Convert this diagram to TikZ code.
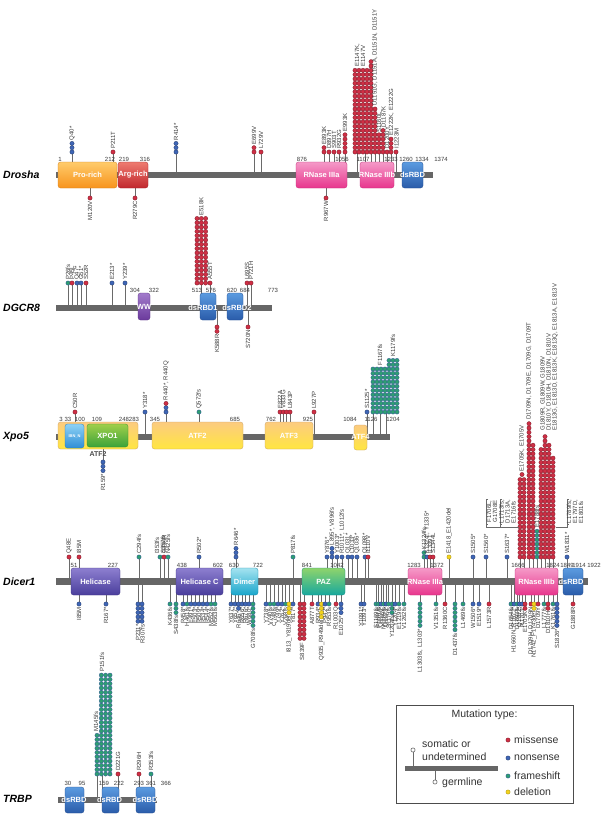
\documentclass[tikz,border=0pt]{standalone}
\usepackage{fontspec}
\setmainfont{Liberation Sans}
\definecolor{miss}{HTML}{CF2F45}
\definecolor{nons}{HTML}{3F66B6}
\definecolor{frms}{HTML}{2E9E72}
\definecolor{dele}{HTML}{F2D21E}
\definecolor{barc}{HTML}{666666}
\definecolor{stemc}{HTML}{6A6A6A}
\definecolor{txtc}{HTML}{3A3A3A}
\definecolor{pro1}{HTML}{FFCB6B}\definecolor{pro2}{HTML}{F7941D}
\definecolor{arg1}{HTML}{EE7B70}\definecolor{arg2}{HTML}{C1272D}
\definecolor{rna1}{HTML}{F59AC8}\definecolor{rna2}{HTML}{E8368D}
\definecolor{dsr1}{HTML}{5B9BE0}\definecolor{dsr2}{HTML}{2A5CAA}
\definecolor{ww1}{HTML}{A27BCB}\definecolor{ww2}{HTML}{6B3A9C}
\definecolor{hel1}{HTML}{8D7FD0}\definecolor{hel2}{HTML}{4A3E9C}
\definecolor{dim1}{HTML}{A4E3F0}\definecolor{dim2}{HTML}{1AA6CB}
\definecolor{paz1}{HTML}{8FD46B}\definecolor{paz2}{HTML}{17A89E}
\definecolor{atfa}{HTML}{FCCB80}\definecolor{atfb}{HTML}{FFE640}
\definecolor{ibn1}{HTML}{8ED2F5}\definecolor{ibn2}{HTML}{2F8ED6}
\definecolor{xpa}{HTML}{A0CF4A}\definecolor{xpb}{HTML}{3BA33A}
\newcommand\dsp{4.3}
% lollipop above the bar
\newcommand\lpu[4]{%
  \draw[stm] (#1,\BY) -- (#1,\DU);
  \foreach \ii in {1,...,#2}{\node[d-#3] at (#1,{\DU-(\ii-1)*\dsp}) {};}
  \node[lab,anchor=west] at (#1,{\DU-(#2-1)*\dsp-2.6}) {#4};}
% lollipop below the bar
\newcommand\lpd[4]{%
  \draw[stm] (#1,\BY) -- (#1,\DD);
  \foreach \ii in {1,...,#2}{\node[d-#3] at (#1,{\DD+(\ii-1)*\dsp}) {};}
  \node[lab,anchor=east] at (#1,{\DD+(#2-1)*\dsp+2.6}) {#4};}
% columns of dots without stem
\newcommand\cu[4]{\foreach \ii in {1,...,#2}{\node[d-#3] at (#1,{#4-(\ii-1)*\dsp}) {};}}
\newcommand\cd[4]{\foreach \ii in {1,...,#2}{\node[d-#3] at (#1,{#4+(\ii-1)*\dsp}) {};}}
% domain box
\newcommand\dom[7]{%
  \shade[top color=#5,bottom color=#6,draw=#6!85!black,line width=0.3pt,rounded corners=2.5pt] (#1,#2) rectangle (#3,#4);
  \node[domt] at ({(#1+#3)/2},{(#2+#4)/2}) {#7};}
\newcommand\atf[5]{%
  \shade[top color=atfa,middle color=atfa,bottom color=atfb,draw=atfa!80!black,line width=0.3pt,rounded corners=2.5pt] (#1,#2) rectangle (#3,#4);
  \node[domt] at ({(#1+#3)/2},{(#2+#4)/2}) {#5};}
\begin{document}
\begin{tikzpicture}[x=1pt,y=-1pt,
  stm/.style={draw=stemc,line width=0.6pt},
  dotb/.style={circle,inner sep=0pt,minimum size=4.3pt,line width=0.3pt},
  d-miss/.style={dotb,fill=miss,draw=miss!60!black},
  d-nons/.style={dotb,fill=nons,draw=nons!60!black},
  d-frms/.style={dotb,fill=frms,draw=nons!85!black},
  d-dele/.style={dotb,fill=dele,draw=dele!70!black},
  lab/.style={font=\fontsize{6}{6}\selectfont,text=txtc,rotate=90,inner sep=0.4pt,align=left},
  num/.style={font=\fontsize{6}{6}\selectfont,text=txtc,inner sep=0pt},
  domt/.style={font=\bfseries\fontsize{7.5}{8}\selectfont,text=white,inner sep=0pt},
  pname/.style={font=\bfseries\itshape\fontsize{10.5}{12}\selectfont,anchor=west,inner sep=0pt},
  leg/.style={font=\fontsize{10.5}{12.5}\selectfont,text=black!80,anchor=west,inner sep=0pt,align=left}]
\useasboundingbox (0,0) rectangle (608,816);
\fill[white] (0,0) rectangle (608,816);

%================ DROSHA ================
\def\BY{175}\def\DU{152}\def\DD{198}
\lpu{72}{3}{nons}{Q40*}
\lpu{113}{1}{miss}{P211T}
\lpu{176}{3}{nons}{R414*}
\lpu{254}{2}{miss}{E699V}
\lpu{261}{1}{miss}{L729V}
\lpu{324}{2}{miss}{E893K}
\lpu{329}{1}{miss}{D897H}
\lpu{334}{1}{miss}{S903T}
\lpu{339}{1}{miss}{R932G}
\lpu{345}{5}{miss}{E993K}
\foreach \xx in {357,365,371,375,379,383,387,391,396}{\draw[stm] (\xx,\BY) -- (\xx,\DU);}
\foreach \xx in {355,359,363,367}{\cu{\xx}{20}{miss}{152}}
\cu{371}{22}{miss}{152}
\cu{375}{11}{miss}{152}
\cu{379}{5}{miss}{152}
\cu{383}{6}{miss}{152}
\cu{387}{1}{miss}{152}
\cu{391}{4}{miss}{152}
\cu{396}{1}{miss}{152}
\node[lab,anchor=west] at (360,67) {E1147K,\\E1147V};
\node[lab,anchor=west] at (375,106) {D1151G, D1151A, D1151N, D1151Y};
\node[lab,anchor=west] at (379,133) {S1160L};
\node[lab,anchor=west] at (383.5,128) {D1187K};
\node[lab,anchor=west] at (387,149) {D1200Y};
\node[lab,anchor=west] at (391.5,136) {E1222K, E1222G};
\node[lab,anchor=west] at (396.5,149) {I1223M};
\lpd{90}{1}{miss}{M120V}
\lpd{135}{1}{miss}{R279C}
\lpd{326}{1}{miss}{R967W}
\fill[barc] (56,172) rectangle (433,178);
\dom{58}{162}{117}{188}{pro1}{pro2}{Pro-rich}
\dom{118}{162}{148}{188}{arg1}{arg2}{Arg-rich}
\dom{296}{162}{347}{188}{rna1}{rna2}{RNase IIIa}
\dom{360}{162}{394}{188}{rna1}{rna2}{RNase IIIb}
\dom{402}{162}{423}{188}{dsr1}{dsr2}{dsRBD}
\foreach \xx/\tt in {60/1,110/212,124/219,145/316,302/876,342/1056,363/1107,391/1233,406/1260,422/1334,441/1374}{\node[num] at (\xx,159) {\tt};}
\node[pname] (drosha) at (3,175) {Drosha};

%================ DGCR8 ================
\def\BY{307.5}\def\DU{283}\def\DD{327}
\lpu{68}{1}{frms}{P26fs}
\lpu{72}{1}{miss}{P45L}
\lpu{77}{1}{nons}{Q47*}
\lpu{81}{1}{nons}{G51*}
\lpu{86}{1}{miss}{S52R}
\lpu{112}{1}{nons}{E213*}
\lpu{125}{1}{nons}{Y239*}
\draw[stm] (201,\BY) -- (201,\DU);
\foreach \xx in {197,201.3,205.6}{\cu{\xx}{16}{miss}{283}}
\node[lab,anchor=west] at (201.3,216) {E518K};
\lpu{210}{1}{miss}{A555T}
\lpu{247}{1}{miss}{L695S}
\lpu{251}{1}{miss}{P721H}
\lpd{217}{2}{miss}{K588R}
\lpd{248}{1}{miss}{S720N}
\fill[barc] (56,304.5) rectangle (272,310.5);
\dom{138}{293}{150}{320}{ww1}{ww2}{WW}
\dom{200}{293}{216}{320}{dsr1}{dsr2}{}
\dom{227}{293}{243}{320}{dsr1}{dsr2}{}
\node[domt] at (203,307.5) {dsRBD1};
\node[domt] at (237,307.5) {dsRBD2};
\foreach \xx/\tt in {135/304,154/322,197/513,211/576,232/620,245/684,273/773}{\node[num] at (\xx,290) {\tt};}
\node[pname] (dgcr8) at (3,307.5) {DGCR8};

%================ XPO5 ================
\def\BY{437}\def\DU{412}\def\DD{462}
\lpu{75}{1}{miss}{C50R}
\lpu{145}{1}{nons}{Y318*}
\draw[stm] (166,\BY) -- (166,\DU);
\node[d-nons] at (166,412) {};
\node[d-nons] at (166,407.7) {};
\node[d-miss] at (166,403.4) {};
\node[lab,anchor=west] at (166,400.8) {R440*, R440Q};
\lpu{199}{1}{frms}{Q572fs}
\lpu{280}{1}{miss}{E822A}
\lpu{283.3}{1}{miss}{V833G}
\lpu{286.6}{1}{miss}{}
\lpu{290}{1}{miss}{L843P}
\lpu{314}{1}{miss}{L927P}
\lpu{367}{1}{nons}{S1125*}
\foreach \xx in {373,380,386}{\draw[stm] (\xx,\BY) -- (\xx,\DU);}
\foreach \xx in {373,377,381,385}{\cu{\xx}{11}{frms}{412}}
\foreach \xx in {389,393,397}{\cu{\xx}{13}{frms}{412}}
\node[lab,anchor=west] at (380,366) {F1167fs};
\node[lab,anchor=west] at (393,357) {K1179fs};
\lpd{103}{3}{nons}{R159*}
\fill[barc] (56,434) rectangle (390,440);
\atf{58}{422}{138}{449}{}
\dom{65}{424}{84}{448}{ibn1}{ibn2}{}
\node[font=\bfseries\fontsize{4}{4}\selectfont,text=white] at (74.5,436) {IBN\_N};
\dom{87}{424}{128}{447}{xpa}{xpb}{XPO1}
\node[font=\bfseries\fontsize{7}{7}\selectfont,text=black!70,inner sep=0pt] at (98,454) {ATF2};
\atf{152}{422}{243}{449}{ATF2}
\atf{265}{422}{313}{449}{ATF3}
\atf{354}{425}{367}{450}{}
\node[domt] at (360.5,437) {ATF4};
\foreach \xx/\tt in {61/3,68/33,80/100,97/109,124/248,134/283,155/345,235/685,271/762,308/925,350/1084,371/1126,393/1204}{\node[num] at (\xx,419) {\tt};}
\node[pname] (xpo5) at (3,437) {Xpo5};

%================ DICER1 ================
\def\BY{581}\def\DU{557}\def\DD{604}
\lpu{69}{1}{miss}{Q48E}
\lpu{79}{1}{miss}{I85M}
\lpu{139}{1}{frms}{C294fs}
\lpu{160}{1}{frms}{I353fs\\S357fs}
\lpu{164}{1}{miss}{G394R}
\lpu{168}{1}{frms}{N425fs}
\lpu{199}{1}{nons}{R502*}
\lpu{236}{3}{nons}{R646*}
\lpu{293}{1}{frms}{P817fs}
\lpu{327}{1}{nons}{Y876*}
\lpu{332}{3}{nons}{L895*, V896fs}
\lpu{337}{1}{nons}{Y1003*}
\lpu{342}{1}{nons}{R1011*, L1012fs}
\lpu{348}{1}{nons}{Q1031*}
\lpu{352}{1}{nons}{L1033*}
\lpu{357}{1}{nons}{Q1036*}
\lpu{365}{1}{nons}{Q1098*}
\lpu{368}{1}{miss}{I1110V}
\lpu{424}{2}{frms}{K1324fs}
\lpu{427}{1}{nons}{K1324*, Y1335*}
\lpu{430}{1}{miss}{I1339T}
\lpu{433}{1}{miss}{S1344L}
\lpu{449}{1}{dele}{E1418\_E1420del}
\lpu{473}{1}{nons}{S1505*}
\lpu{486}{1}{nons}{S1560*}
\lpu{507}{1}{nons}{S1637*}
\lpu{567}{1}{nons}{W1831*}
\foreach \xx in {520,524,529,533,537,541,545,549,553}{\draw[stm] (\xx,\BY) -- (\xx,\DU);}
\cu{520}{19}{miss}{557}
\cu{524}{19}{miss}{557}
\node[d-miss] at (522,474.5) {};
\node[lab,anchor=west] at (522,472) {E1705K, E1705V};
\cu{529}{32}{miss}{557}
\node[lab,anchor=west] at (529,420.5) {D1709N, D1709E, D1709G, D1709T};
\cu{533}{27}{miss}{557}
\cu{537}{7}{frms}{557}
\node[lab,anchor=west] at (537,528) {E1788fs};
\cu{541}{26}{miss}{557}
\cu{545}{29}{miss}{557}
\cu{549}{27}{miss}{557}
\cu{553}{24}{miss}{557}
\node[lab,anchor=west] at (549,431) {G1809R, G1809W, G1809V\\D1810Y, D1810H, D1810N, D1810V\\E1813G, E1813D, E1813K, E1813Q, E1813A, E1813V};
\draw[stm,line width=0.4pt] (488,499) -- (486,499) -- (486,524) -- (488,524);
\draw[stm,line width=0.4pt] (486,524) -- (486,527) -- (519,527);
\node[lab] at (492,511.5) {F1706L,\\G1708E};
\draw[stm,line width=0.4pt] (502,499) -- (500,499) -- (500,524) -- (502,524);
\draw[stm,line width=0.4pt] (500,524) -- (500,527);
\node[lab] at (507.5,511.5) {L1713fs,\\D1713A,\\E1716fs};
\draw[stm,line width=0.4pt] (569,499) -- (567,499) -- (567,524) -- (569,524);
\draw[stm,line width=0.4pt] (567,524) -- (567,527) -- (556,527);
\node[lab] at (575,511.5) {L1789fs,\\E1797D,\\E1801fs};
% below
\lpd{79}{1}{nons}{I85M}
\lpd{106}{1}{nons}{R167*}
\draw[stm] (138,\BY) -- (138,\DD);
\draw[stm] (142,\BY) -- (142,\DD);
\cd{138}{5}{nons}{604}\cd{142}{5}{nons}{604}
\node[lab,anchor=east] at (138,624) {P231*};
\node[lab,anchor=east] at (142.5,624) {R307fs};
\lpd{170}{1}{frms}{K436fs}
\lpd{176}{3}{frms}{S438fs}
\lpd{183}{1}{nons}{R458*}
\lpd{187}{1}{frms}{H461fs}
\lpd{191}{1}{nons}{E491*}
\lpd{195}{1}{nons}{E503*}
\lpd{199}{1}{nons}{R509*}
\lpd{203}{1}{nons}{R534*}
\lpd{207}{1}{nons}{R544*}
\lpd{211}{1}{frms}{M552fs}
\lpd{215}{1}{frms}{M563fs}
\lpd{231}{1}{nons}{Y637*}
\lpd{235}{1}{nons}{Y657*}
\lpd{238.5}{2}{nons}{R646*}
\lpd{242}{1}{nons}{R656*}
\lpd{245.5}{1}{nons}{R676*}
\lpd{249}{1}{nons}{W680*}
\lpd{253}{6}{frms}{G708fs}
\lpd{266}{1}{nons}{Y738*}
\lpd{270}{1}{frms}{V740fs}
\lpd{274}{1}{frms}{C748fs}
\lpd{278}{1}{nons}{Y749*}
\lpd{282}{1}{nons}{Y762*}
\lpd{285.5}{1}{frms}{V768fs}
\lpd{289}{3}{dele}{I813\_Y819del}
\lpd{293}{1}{nons}{Y817*}
\draw[stm] (300,\BY) -- (300,\DD);
\draw[stm] (304,\BY) -- (304,\DD);
\cd{300}{9}{miss}{604}\cd{304}{9}{miss}{604}
\node[lab,anchor=east] at (302,642) {S839F};
\lpd{312}{1}{miss}{A877T}
\lpd{318}{1}{nons}{R934*}
\lpd{321.5}{4}{dele}{Q935\_R949del}
\lpd{325}{1}{nons}{P942*}
\lpd{329}{1}{frms}{R953fs}
\lpd{336}{1}{miss}{R1003Q}
\lpd{341}{3}{nons}{E1025*}
\lpd{361}{1}{nons}{Y1091*}
\lpd{364}{1}{nons}{Y1093*}
\lpd{376}{1}{frms}{S1169fs}
\lpd{378.5}{1}{frms}{F1161fs}
\lpd{381}{1}{nons}{Q1170*}
\lpd{383.5}{1}{frms}{N1189fs}
\lpd{386}{1}{nons}{Q1173*}
\lpd{388.5}{1}{frms}{S1179fs}
\lpd{392}{3}{frms}{Y1204fs}
\lpd{395}{1}{nons}{Y1204*}
\lpd{399}{1}{frms}{E1219fs}
\lpd{404}{1}{frms}{V1262fs}
\lpd{420}{6}{frms}{L1303fs, L1303*}
\lpd{436}{1}{frms}{V1351fs}
\lpd{445}{1}{miss}{R1360C}
\lpd{455}{7}{frms}{D1437fs}
\lpd{463}{1}{frms}{L1469fs}
\lpd{473}{1}{nons}{W1506*}
\lpd{479}{1}{nons}{E1519*}
\lpd{489}{1}{miss}{L1573R}
\lpd{511}{1}{frms}{D1654fs}
\lpd{514}{1}{nons}{H1660N, R1672*}
\lpd{517}{1}{frms}{D1693fs}
\lpd{519.5}{1}{nons}{Q1702*}
\lpd{522}{1}{nons}{R1703*}
\lpd{525}{2}{miss}{E1705K}
\lpd{531}{1}{miss}{D1709H, D1709N}
\lpd{534}{2}{dele}{N1742\_F1743del}
\lpd{538}{1}{miss}{D1709Y}
\lpd{544}{1}{frms}{L1777fs}
\lpd{548}{2}{miss}{D1810H}
\lpd{553}{1}{frms}{K1761fs}
\lpd{557}{6}{nons}{S1826*}
\lpd{573}{1}{miss}{G1888R}
\fill[barc] (56,577.5) rectangle (588,584.5);
\dom{71}{568}{120}{595}{hel1}{hel2}{Helicase}
\dom{176}{568}{223}{595}{hel1}{hel2}{Helicase C}
\dom{231}{568}{258}{595}{dim1}{dim2}{Dimer}
\dom{302}{568}{345}{595}{paz1}{paz2}{PAZ}
\dom{408}{568}{442}{595}{rna1}{rna2}{RNase IIIa}
\dom{515}{568}{558}{595}{rna1}{rna2}{RNase IIIb}
\dom{563}{568}{583}{595}{dsr1}{dsr2}{}
\node[domt] at (571,581.5) {dsRBD};
\foreach \xx/\tt in {74/51,113/227,182/438,218/602,234/630,258/722,307/841,337/1042,414/1283,437/1372,518/1666,553/1824,567/1849,579/1914,594/1922}{\node[num] at (\xx,565) {\tt};}
\node[pname] (dicer1) at (3,582) {Dicer1};

%================ TRBP ================
\def\BY{799.5}\def\DU{774}
\draw[stm] (97,\BY) -- (97,\DU);
\draw[stm] (102,\BY) -- (102,\DU);
\cu{97}{10}{frms}{774}
\foreach \xx in {101.3,105.6,110}{\cu{\xx}{24}{frms}{774}}
\node[lab,anchor=west] at (96,732) {M145fs};
\node[lab,anchor=west] at (102,672) {P151fs};
\lpu{118}{1}{miss}{D221G}
\lpu{139}{1}{miss}{R296H}
\lpu{151}{1}{frms}{R353fs}
\fill[barc] (58,796.5) rectangle (157,802.5);
\dom{65}{787}{84}{813}{dsr1}{dsr2}{}
\dom{102}{787}{119}{813}{dsr1}{dsr2}{}
\dom{136}{787}{155}{813}{dsr1}{dsr2}{}
\node[domt] at (74,799.5) {dsRBD};
\node[domt] at (109.5,799.5) {dsRBD};
\node[domt] at (145,799.5) {dsRBD};
\foreach \xx/\tt in {68/30,82/95,104/159,119/222,139/293,151/361,166/366}{\node[num] at (\xx,783) {\tt};}
\node[pname] (trbp) at (3,799) {TRBP};

%================ LEGEND ================
\draw[black!70,line width=0.7pt] (396,705) rectangle (573,803);
\node[leg,anchor=center] (legt) at (484.5,715) {Mutation type:};
\fill[barc] (405,766) rectangle (498,771);
\draw[stm] (413,766) -- (413,752.2);
\draw[stemc,line width=0.6pt,fill=white] (413,750) circle (2.1pt);
\draw[stm] (435,771) -- (435,779.8);
\draw[stemc,line width=0.6pt,fill=white] (435,782) circle (2.1pt);
\node[leg] (legs) at (422,750) {somatic or\\undetermined};
\node[leg] (legg) at (442,783) {germline};
\node[d-miss] at (508,740) {};
\node[d-nons] at (508,758) {};
\node[d-frms] at (508,776) {};
\node[d-dele] at (508,792) {};
\node[leg] (lm) at (514,740) {missense};
\node[leg] (ln) at (514,758) {nonsense};
\node[leg] (lf) at (514,776) {frameshift};
\node[leg] (ld) at (514,792) {deletion};
\end{tikzpicture}
\end{document}
